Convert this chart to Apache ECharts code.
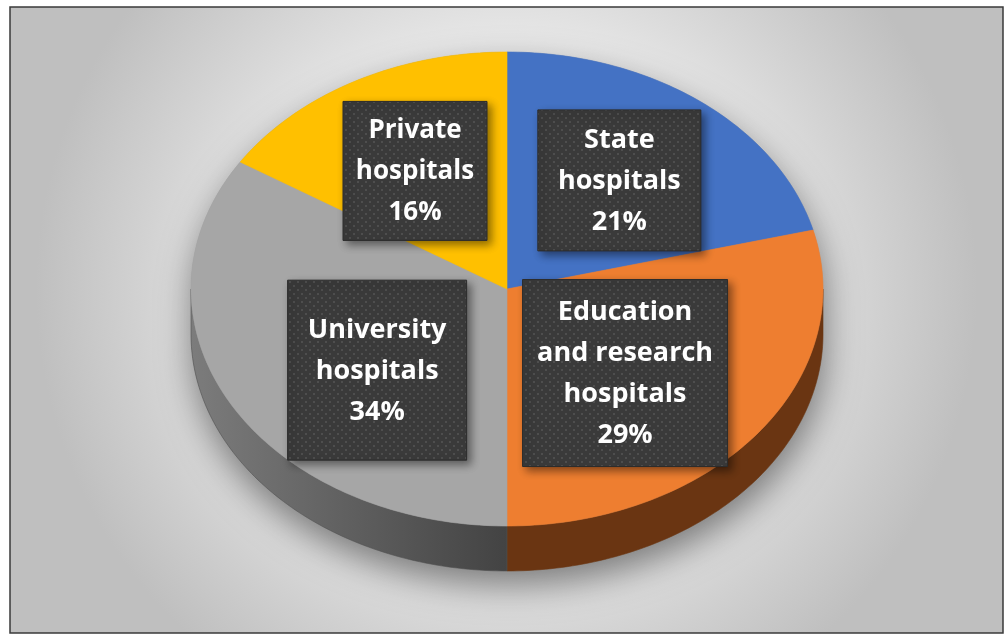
<!DOCTYPE html>
<html>
<head>
<meta charset="utf-8">
<title>Hospital types</title>
<script src="https://cdn.jsdelivr.net/npm/echarts@6/dist/echarts.min.js"></script>
<style>
  html, body { margin: 0; padding: 0; background: #ffffff; }
  #chart { width: 1008px; height: 637px; }
</style>
</head>
<body>
<div id="chart"></div>
<script>
// Share of hospitals by type (percent), clockwise from 12 o'clock
const categories = ['State\nhospitals', 'Education\nand research\nhospitals', 'University\nhospitals', 'Private\nhospitals'];
const shares = [21, 29, 34, 16];

// Slice colours: top face and the darker side wall
const topColors = ['#4472c4', '#ee7e30', '#a6a6a6', '#ffc000'];
const sideColors = [
  '#25407a',
  '#6a3512',
  { type: 'linear', x: 0, y: 0, x2: 1, y2: 0, colorStops: [{ offset: 0, color: '#7c7c7c' }, { offset: 1, color: '#434343' }] },
  '#8a6a00'
];
const sideStroke = ['#25407a', '#6a3512', '#505050', '#8a6a00'];

// Tilted-disc geometry (pixels)
const disc = { cx: 507, cy: 289, rx: 316, ry: 237, depth: 45 };

// Label box placement: angular nudge (deg), radial fraction, box size, font size
const labelPlace = [
  { dAng: 0, r: 0.58, w: 163, h: 141, fs: 27 },
  { dAng: 5.7, r: 0.515, w: 205, h: 187, fs: 27 },
  { dAng: -11, r: 0.535, w: 179, h: 180, fs: 27 },
  { dAng: -1.5, r: 0.577, w: 144, h: 139, fs: 26 }
];

const total = shares.reduce((a, b) => a + b, 0);
const starts = [];
shares.reduce((acc, v, i) => { starts[i] = acc; return acc + v; }, 0);

// Dotted texture for the label boxes
function makeDotPattern() {
  const c = document.createElement('canvas');
  c.width = 8; c.height = 8;
  const g = c.getContext('2d');
  g.fillStyle = '#3a3a3a';
  g.fillRect(0, 0, 8, 8);
  g.fillStyle = '#595959';
  [[2, 2], [6, 6]].forEach(([x, y]) => { g.beginPath(); g.arc(x, y, 0.9, 0, Math.PI * 2); g.fill(); });
  return c;
}
const dotPattern = makeDotPattern();

// Point on the rim at angle a (deg, clockwise from top), with vertical drop
function rim(a, drop) {
  const t = a * Math.PI / 180;
  return [disc.cx + disc.rx * Math.sin(t), disc.cy - disc.ry * Math.cos(t) + (drop || 0)];
}
function arcPoints(a0, a1, drop) {
  const pts = [];
  const n = Math.max(2, Math.ceil(Math.abs(a1 - a0)));
  for (let k = 0; k <= n; k++) pts.push(rim(a0 + (a1 - a0) * k / n, drop));
  return pts;
}

function renderItem(params, api) {
  const i = params.dataIndex;
  const value = api.value(0);
  const a0 = starts[i] / total * 360;
  const a1 = a0 + value / total * 360;
  const children = [];

  // Soft drop shadow of the whole disc, drawn once under everything
  if (i === 0) {
    children.push({
      type: 'polygon',
      z2: 0,
      shape: { points: arcPoints(-90, 90, 0).concat(arcPoints(90, 270, disc.depth)) },
      style: {
        fill: '#9a9a9a',
        shadowBlur: 34,
        shadowOffsetX: 2,
        shadowOffsetY: 14,
        shadowColor: 'rgba(0,0,0,0.45)'
      },
      silent: true
    });
  }

  // Side wall: only the part of the rim facing the viewer (90..270 deg)
  const s0 = Math.max(a0, 90), s1 = Math.min(a1, 270);
  if (s1 > s0) {
    const pts = arcPoints(s0, s1, 0).concat(arcPoints(s0, s1, disc.depth).reverse());
    children.push({
      type: 'polygon', z2: 2,
      shape: { points: pts },
      style: { fill: sideColors[i], stroke: sideStroke[i], lineWidth: 0.6 }
    });
  }

  // Top face of the slice
  children.push({
    type: 'polygon', z2: 5,
    shape: { points: [[disc.cx, disc.cy]].concat(arcPoints(a0, a1, 0)) },
    style: { fill: topColors[i], stroke: topColors[i], lineWidth: 0.6 }
  });

  // Data label box
  const lp = labelPlace[i];
  const mid = (a0 + a1) / 2 + lp.dAng;
  const t = mid * Math.PI / 180;
  const lx = disc.cx + disc.rx * lp.r * Math.sin(t);
  const ly = disc.cy - disc.ry * lp.r * Math.cos(t);
  children.push({
    type: 'rect', z2: 20,
    shape: { x: lx - lp.w / 2, y: ly - lp.h / 2, width: lp.w, height: lp.h },
    style: {
      fill: { type: 'pattern', image: dotPattern, repeat: 'repeat' },
      stroke: '#2c2c2c', lineWidth: 1,
      shadowBlur: 8, shadowOffsetX: 4, shadowOffsetY: 4, shadowColor: 'rgba(0,0,0,0.45)'
    }
  });
  children.push({
    type: 'text', z2: 21,
    x: lx, y: ly + 1,
    style: {
      text: categories[i] + '\n' + Math.round(value / total * 100) + '%',
      fill: '#ffffff',
      font: 'bold ' + lp.fs + 'px "Open Sans"',
      lineHeight: 41,
      align: 'center',
      verticalAlign: 'middle'
    }
  });

  return { type: 'group', children };
}

const chart = echarts.init(document.getElementById('chart'), null, { renderer: 'canvas' });
chart.setOption({
  animation: false,
  backgroundColor: '#ffffff',
  graphic: [{
    type: 'rect',
    z: -10,
    shape: { x: 10, y: 7, width: 993, height: 626 },
    style: {
      fill: {
        type: 'radial', x: 0.5, y: 0.45, r: 0.75,
        colorStops: [
          { offset: 0, color: '#f4f4f4' },
          { offset: 0.5, color: '#e9e9e9' },
          { offset: 1, color: '#bfbfbf' }
        ]
      },
      stroke: '#3a3a3a',
      lineWidth: 1.5
    },
    silent: true
  }],
  series: [{
    type: 'custom',
    coordinateSystem: 'none',
    renderItem: renderItem,
    data: shares.map(v => [v])
  }]
});
</script>
</body>
</html>
